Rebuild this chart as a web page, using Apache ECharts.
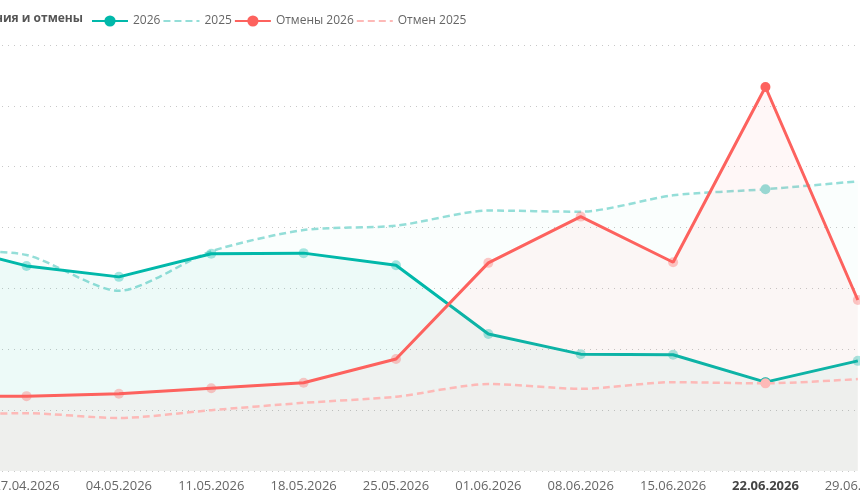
<!DOCTYPE html>
<html>
<head>
<meta charset="utf-8">
<script src="https://cdn.jsdelivr.net/npm/echarts@6/dist/echarts.min.js"></script>
<style>
  html, body { margin: 0; padding: 0; width: 860px; height: 500px; overflow: hidden; background: #fff; }
  /* the visual is wider than the window: it is shifted left, like the screenshot */
  #main { position: absolute; left: -170px; top: 0; width: 1100px; height: 500px; }
</style>
</head>
<body>
<div id="main"></div>
<script>
var weeks = ['20.04.2026', '27.04.2026', '04.05.2026', '11.05.2026', '18.05.2026', '25.05.2026',
             '01.06.2026', '08.06.2026', '15.06.2026', '22.06.2026', '29.06.2026'];
var selectedWeek = '22.06.2026';

var bookings2026 = [37.6, 33.7, 31.9, 35.7, 35.8, 33.8, 22.5, 19.2, 19.1, 14.6, 18.1];
var bookings2025 = [36.3, 35.5, 29.6, 36.1, 39.6, 40.3, 42.8, 42.6, 45.3, 46.3, 47.6];
var cancels2026  = [12.3, 12.3, 12.7, 13.6, 14.5, 18.4, 34.2, 41.8, 34.3, 63.1, 28.1];
var cancels2025  = [9.2, 9.5, 8.7, 10.0, 11.2, 12.2, 14.3, 13.5, 14.6, 14.4, 15.1];

var TEAL = '#01B8AA', TEAL_LIGHT = '#94DED8', RED = '#FD625E', RED_LIGHT = '#FDB9B7';
var FONT = '"Segoe UI", "Open Sans", sans-serif';

// текущий год: маркеры везде, выбранная неделя яркая, остальные бледные
function markCurrent(values) {
    return values.map(function (v, i) {
        if (weeks[i] === selectedWeek) return v;
        return { value: v, itemStyle: { opacity: 0.35 } };
    });
}
// прошлый год: маркер только на выбранной неделе
function markPrev(values) {
    return values.map(function (v, i) {
        if (weeks[i] === selectedWeek) return { value: v, symbol: 'circle', symbolSize: 10 };
        return v;
    });
}

var myChart = echarts.init(document.getElementById('main'));

var option = {
    animation: false,
    textStyle: { fontFamily: FONT },
    graphic: [{
        type: 'text',
        x: 253,
        y: 19,
        style: {
            text: 'Бронирования и отмены',
            fill: '#555',
            font: 'bold 12px ' + FONT,
            align: 'right',
            verticalAlign: 'middle'
        }
    }],
    legend: {
        left: 256,
        top: 10,
        itemWidth: 36,
        itemHeight: 14,
        itemGap: 2,
        textStyle: { color: '#666', fontSize: 12, fontFamily: FONT },
        data: [
            '2026',
            { name: '2025', itemStyle: { opacity: 0 } },
            'Отмены 2026',
            { name: 'Отмен 2025', itemStyle: { opacity: 0 } }
        ]
    },
    grid: { left: 58, right: 26, top: 45, bottom: 29 },
    xAxis: {
        type: 'category',
        data: weeks,
        boundaryGap: true,
        axisLine: { show: false },
        axisTick: { show: false },
        axisLabel: {
            interval: 0,
            margin: 9,
            color: '#666',
            fontSize: 13,
            fontFamily: FONT,
            formatter: function (v) {
                return v === selectedWeek ? '{sel|' + v + '}' : v;
            },
            rich: { sel: { fontWeight: 'bold', color: '#444', fontSize: 13, fontFamily: FONT } }
        }
    },
    yAxis: {
        type: 'value',
        min: 0,
        max: 70,
        interval: 10,
        axisLabel: { color: '#666' },
        splitLine: { lineStyle: { color: '#c8c8c8', type: [1, 5], width: 1 } }
    },
    series: [
        {
            name: '2026', type: 'line', data: markCurrent(bookings2026),
            symbol: 'circle', symbolSize: 10, z: 4,
            lineStyle: { color: TEAL, width: 3 },
            itemStyle: { color: TEAL },
            areaStyle: { color: TEAL, opacity: 0.055 }
        },
        {
            name: '2025', type: 'line', data: markPrev(bookings2025),
            symbol: 'none', smooth: 0.25, z: 3,
            lineStyle: { color: TEAL_LIGHT, width: 2.5, type: [7, 4] },
            itemStyle: { color: TEAL_LIGHT },
            areaStyle: { color: TEAL, opacity: 0.02 }
        },
        {
            name: 'Отмены 2026', type: 'line', data: markCurrent(cancels2026),
            symbol: 'circle', symbolSize: 10, z: 5,
            lineStyle: { color: RED, width: 3 },
            itemStyle: { color: RED },
            areaStyle: { color: RED, opacity: 0.05 }
        },
        {
            name: 'Отмен 2025', type: 'line', data: markPrev(cancels2025),
            symbol: 'none', smooth: 0.25, z: 6,
            lineStyle: { color: RED_LIGHT, width: 2.5, type: [7, 4] },
            itemStyle: { color: RED_LIGHT },
            areaStyle: { color: RED, opacity: 0.02 }
        }
    ]
};

myChart.setOption(option);
</script>
</body>
</html>
